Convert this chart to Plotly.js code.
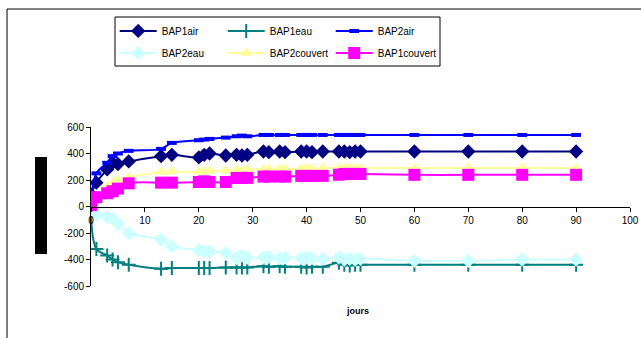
<!DOCTYPE html>
<html>
<head>
<meta charset="utf-8">
<script src="https://cdn.plot.ly/plotly-3.0.1.min.js"></script>
<style>html,body{margin:0;padding:0;background:#fff;}#chart{width:641px;height:338px;}</style>
</head>
<body>
<div id="chart"></div>
<script>
const days = [0,1,3,4,5,7,13,15,20,21,22,25,27,28,29,32,33,35,36,39,40,41,43,46,47,48,49,50,60,70,80,90];
const bap1air = [90,180,280,330,320,340,380,390,370,390,400,385,390,385,390,415,410,415,410,415,415,410,415,415,415,410,415,415,415,415,415,415];
const bap1eau = [-50,-320,-370,-400,-420,-440,-470,-465,-465,-465,-465,-460,-460,-460,-460,-450,-455,-450,-455,-455,-460,-455,-455,-425,-440,-445,-440,-440,-440,-440,-440,-440];
const bap2air = [50,250,330,380,400,420,435,480,500,505,510,520,530,535,530,540,540,540,540,540,540,540,540,540,540,540,540,540,540,540,540,540];
const bap2eau = [0,-60,-80,-90,-130,-200,-250,-300,-330,-335,-340,-350,-390,-370,-385,-385,-380,-390,-385,-390,-385,-390,-395,-385,-400,-395,-400,-395,-410,-410,-400,-400];
const bap2couvert = [0,50,150,180,200,220,260,265,260,265,270,270,275,270,280,280,285,285,285,285,290,285,290,290,290,290,290,290,290,290,290,290];
const bap1couvert = [10,70,100,115,135,175,180,180,185,190,185,185,215,216,216,226,226,226,226,231,231,231,231,240,246,246,246,246,239,239,239,239];
const xTicks = [0,10,20,30,40,50,60,70,80,90,100];
const yTicks = [-600,-400,-200,0,200,400,600];

const font = {family: 'Liberation Sans, Arial, sans-serif', size: 10, color: '#000'};
function tr(name, y, color, symbol, size, legend, lineMarker) {
  const m = {symbol: symbol, size: size, color: color};
  if (lineMarker) m.line = {color: color, width: lineMarker};
  return {x: days, y: y, name: name, type: 'scatter', mode: 'lines+markers',
    line: {color: color, width: 2, shape: 'spline', smoothing: 1},
    marker: m, legend: legend, hoverinfo: 'skip'};
}
const data = [
  tr('BAP1air', bap1air, '#000080', 'diamond', 11, 'legend'),
  tr('BAP1eau', bap1eau, '#008080', 'cross-thin-open', 10, 'legend', 2),
  tr('BAP2air', bap2air, '#0000FF', 'line-ew-open', 7, 'legend', 4),
  tr('BAP2eau', bap2eau, '#CCFFFF', 'diamond', 11, 'legend2'),
  tr('BAP2couvert', bap2couvert, '#FFFF99', 'triangle-up', 11, 'legend2'),
  tr('BAP1couvert', bap1couvert, '#FF00FF', 'square', 12, 'legend2')
];
const legBase = {orientation: 'h', xanchor: 'left', yanchor: 'middle', font: font,
  bgcolor: 'rgba(0,0,0,0)', borderwidth: 0, entrywidth: 56, entrywidthmode: 'pixels',
  itemwidth: 37, tracegroupgap: 0};
const layout = {
  width: 641, height: 338,
  margin: {l: 91, r: 11, t: 127, b: 52},
  paper_bgcolor: '#fff', plot_bgcolor: '#fff',
  font: font,
  showlegend: true,
  legend: Object.assign({x: 0.044, y: 1.604}, legBase),
  legend2: Object.assign({x: 0.044, y: 1.466}, legBase),
  xaxis: {range: [0, 100], tickvals: xTicks, ticktext: xTicks.map(String), ticks: 'outside',
    ticklen: 4, tickcolor: '#000', showline: true, linecolor: '#000', linewidth: 1,
    showgrid: false, zeroline: false, anchor: 'free', position: 0.5, tickfont: font},
  yaxis: {range: [-600, 600], tickvals: yTicks, ticktext: yTicks.map(String), ticks: 'outside',
    ticklen: 4, tickcolor: '#000', showline: true, linecolor: '#000', linewidth: 1,
    showgrid: false, zeroline: false, tickfont: font},
  shapes: [
    {type: 'rect', xref: 'paper', yref: 'paper', x0: -0.1558, x1: 1.2, y0: -0.5, y1: 1.742,
      line: {color: '#000', width: 1}, fillcolor: 'rgba(0,0,0,0)'},
    {type: 'rect', xref: 'paper', yref: 'paper', x0: (115-91)/539, x1: (440-91)/539,
      y0: (286-66)/159, y1: (286-17)/159, line: {color: '#000', width: 1}, fillcolor: 'rgba(0,0,0,0)'},
    {type: 'rect', xref: 'paper', yref: 'paper', x0: (35-91)/539, x1: (47-91)/539,
      y0: (286-254)/159, y1: (286-157)/159, line: {width: 0}, fillcolor: '#000'}
  ],
  annotations: [
    {text: '<b>jours</b>', xref: 'paper', yref: 'paper', x: (357-91)/539, y: (286-318)/159,
      showarrow: false, font: {family: font.family, size: 9, color: '#000'}}
  ]
};
Plotly.newPlot('chart', data, layout, {displayModeBar: false, staticPlot: true});
</script>
</body>
</html>
